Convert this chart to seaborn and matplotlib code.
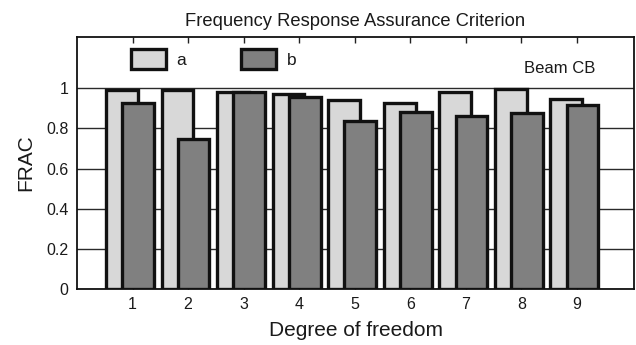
import matplotlib
matplotlib.use("Agg")
import matplotlib.pyplot as plt
import seaborn as sns
import pandas as pd

# ---- data ----
dof = ["1", "2", "3", "4", "5", "6", "7", "8", "9"]
series_a = [0.99, 0.99, 0.98, 0.97, 0.94, 0.925, 0.98, 0.995, 0.945]
series_b = [0.925, 0.748, 0.98, 0.958, 0.838, 0.879, 0.862, 0.874, 0.916]
series_names = ["a", "b"]
yticks = [0, 0.2, 0.4, 0.6, 0.8, 1.0]
ytick_labels = ["0", "0.2", "0.4", "0.6", "0.8", "1"]

df = pd.DataFrame({
    "dof": dof * 2,
    "FRAC": series_a + series_b,
    "series": [series_names[0]] * len(dof) + [series_names[1]] * len(dof),
})

sns.set_theme(style="white")
plt.rcParams["font.family"] = ["Liberation Sans", "DejaVu Sans"]
plt.rcParams["text.color"] = "#1a1a1a"

fig = plt.figure(figsize=(6.36, 3.45), dpi=100)
ax = fig.add_axes([0.121, 0.162, 0.876, 0.731])

sns.barplot(data=df, x="dof", y="FRAC", hue="series", order=dof,
            hue_order=series_names, palette=["#d8d8d8", "#808080"],
            dodge=True, width=0.58, edgecolor="#111111", linewidth=2.4,
            saturation=1, errorbar=None, ax=ax)

# overlapping, wider bars
bar_w = 0.57
shifts = [-0.045, -0.045]
for cont, sh in zip(ax.containers, shifts):
    for p in cont.patches:
        cx = p.get_x() + p.get_width() / 2 + sh
        p.set_width(bar_w)
        p.set_x(cx - bar_w / 2)

ax.set_xlim(-1.0, 9.03)
ax.set_ylim(0, 1.255)
ax.set_yticks(yticks)
ax.set_yticklabels(ytick_labels)
ax.yaxis.grid(True, color="#2a2a2a", linewidth=1.0)
ax.set_axisbelow(True)

ax.tick_params(axis="x", direction="in", top=True, bottom=True, length=4,
               width=1, color="#222222", labelsize=11.5, pad=6,
               labelcolor="#1a1a1a")
ax.tick_params(axis="y", direction="in", left=False, right=False,
               labelsize=11.5, pad=6, labelcolor="#1a1a1a")
for s in ax.spines.values():
    s.set_visible(True)
    s.set_color("#111111")
    s.set_linewidth(1.3)

ax.set_xlabel("Degree of freedom", fontsize=15, labelpad=6, color="#1a1a1a")
ax.set_ylabel("FRAC", fontsize=15, labelpad=8, color="#1a1a1a")
ax.set_title("Frequency Response Assurance Criterion", fontsize=13.2,
             pad=8, color="#1a1a1a")

ax.text(0.93, 0.875, "Beam CB", transform=ax.transAxes, ha="right",
        va="center", fontsize=12, color="#1a1a1a")

handles, labels = ax.get_legend_handles_labels()
if ax.get_legend() is not None:
    ax.get_legend().remove()
leg = ax.legend(handles, labels, loc="upper left",
                bbox_to_anchor=(0.097, 0.952), ncol=2, frameon=False,
                fontsize=12.5, handlelength=2.0, handleheight=1.35,
                handletextpad=0.6, columnspacing=3.2, borderpad=0,
                borderaxespad=0)
for h in leg.legend_handles:
    h.set_edgecolor("#111111")
    h.set_linewidth(2.4)

fig.savefig("out.png", dpi=100)
